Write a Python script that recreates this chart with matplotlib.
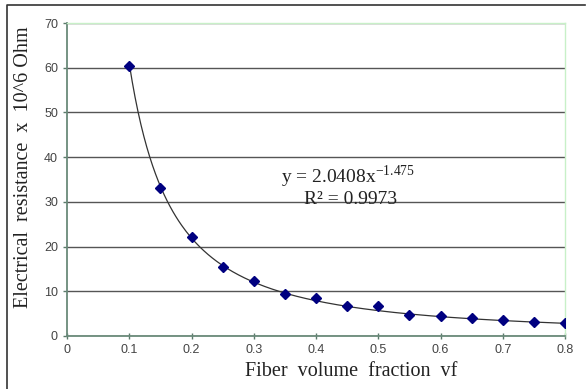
import matplotlib.pyplot as plt
import numpy as np
from matplotlib.lines import Line2D

plt.rcParams['mathtext.fontset'] = 'custom'
plt.rcParams['mathtext.rm'] = 'Liberation Serif'
plt.rcParams['font.family'] = ['Liberation Sans', 'DejaVu Sans']

# measured points
vf = [0.1, 0.15, 0.2, 0.25, 0.3, 0.35, 0.4, 0.45, 0.5, 0.55, 0.6, 0.65, 0.7, 0.75, 0.8]
resistance = [60.3, 33.1, 22.1, 15.4, 12.3, 9.4, 8.6, 6.7, 6.6, 4.7, 4.4, 4.0, 3.5, 3.1, 2.8]

# power trendline y = a * x^b
fit_a = 2.0408
fit_b = -1.475
fit_r2 = 0.9973

W, H = 587, 389
fig = plt.figure(figsize=(W / 100, H / 100), dpi=100)
ax = fig.add_axes([67 / W, 1 - 336 / H, (565 - 67) / W, (336 - 23) / H])

xs = np.linspace(min(vf), max(vf), 300)
ax.plot(xs, fit_a * xs ** fit_b, color='#333333', lw=0.9, zorder=2)
ax.plot(vf, resistance, 'D', color='#000080', markersize=5, zorder=3)

ax.set_xlim(0, 0.8)
ax.set_ylim(0, 70)
ax.set_xticks(np.arange(0, 0.81, 0.1))
ax.set_xticklabels(['0', '0.1', '0.2', '0.3', '0.4', '0.5', '0.6', '0.7', '0.8'])
ax.set_yticks(range(0, 71, 10))
ax.yaxis.grid(True, color='#555555', lw=1.0)
ax.set_axisbelow(True)
ax.tick_params(labelsize=9, labelcolor='#444444', color='#5a7a6a', length=3, width=1)
ax.tick_params(axis='x', direction='inout', length=5)
ax.tick_params(axis='y', direction='out')

for s in ['left', 'bottom']:
    ax.spines[s].set_color('#6a8a7a')
    ax.spines[s].set_linewidth(1.3)
for s in ['top', 'right']:
    ax.spines[s].set_color('#c8f0c8')
    ax.spines[s].set_linewidth(1.0)

ax.set_xlabel('Fiber  volume  fraction  vf', fontfamily='Liberation Serif',
              fontsize=14.5, color='#222222')
ax.xaxis.set_label_coords(0.57, -0.083)
ax.set_ylabel('Electrical  resistance  x  10^6 Ohm', fontfamily='Liberation Serif',
              fontsize=14.5, color='#222222')
ax.yaxis.set_label_coords(-0.068, 0.54)

ax.text(0.452, 35.6, 'y = %.4fx$^{%.3f}$' % (fit_a, fit_b), fontfamily='Liberation Serif',
        fontsize=14, color='#222222', ha='center', va='center')
ax.text(0.455, 30.5, 'R² = %.4f' % fit_r2, fontfamily='Liberation Serif',
        fontsize=14, color='#222222', ha='center', va='center')

# outer frame (top and left edges)
fig.add_artist(Line2D([7 / W, 7 / W, 585 / W], [0, 1 - 5 / H, 1 - 5 / H],
                      transform=fig.transFigure, color='#333333', lw=1.2))

fig.savefig('out.png', dpi=100)
